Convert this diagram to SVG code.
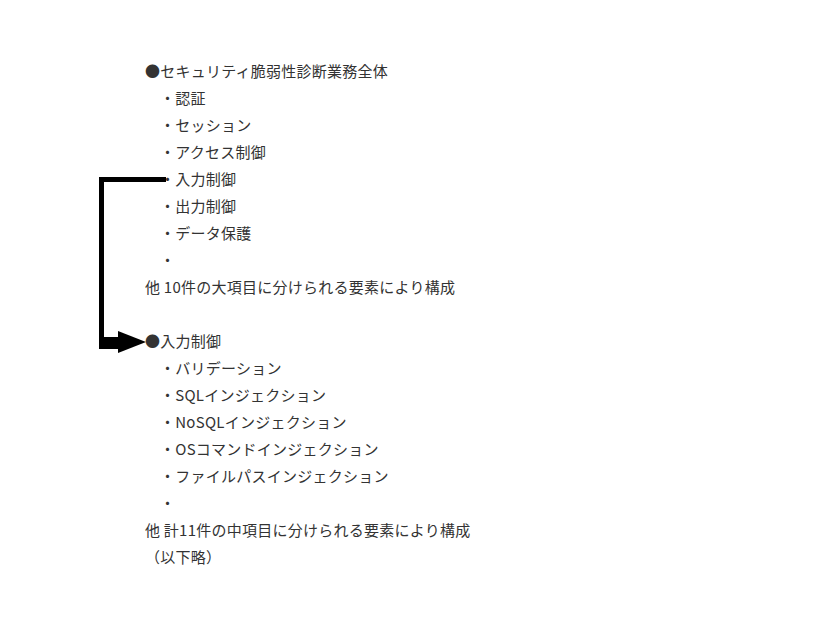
<svg xmlns="http://www.w3.org/2000/svg" width="826" height="620" viewBox="0 0 826 620">
<style>
text{font-family:"Noto Sans CJK JP","Noto Sans",sans-serif;font-size:15px;fill:#333;letter-spacing:0.25px;}
</style>
<rect width="826" height="620" fill="#fff"/>
<g id="node-overall">
<text x="145" y="77">●セキュリティ脆弱性診断業務全体</text>
<text x="160" y="104">・認証</text>
<text x="160" y="131">・セッション</text>
<text x="160" y="158">・アクセス制御</text>
<text x="160" y="185">・入力制御</text>
<text x="160" y="212">・出力制御</text>
<text x="160" y="239">・データ保護</text>
<text x="160" y="266">・</text>
<text x="145" y="293">他 10件の大項目に分けられる要素により構成</text>
</g>
<g id="node-input">
<text x="145" y="347">●入力制御</text>
<text x="160" y="374">・バリデーション</text>
<text x="160" y="401">・SQLインジェクション</text>
<text x="160" y="428">・NoSQLインジェクション</text>
<text x="160" y="455">・OSコマンドインジェクション</text>
<text x="160" y="482">・ファイルパスインジェクション</text>
<text x="160" y="509">・</text>
<text x="145" y="536">他 計11件の中項目に分けられる要素により構成</text>
<text x="145" y="563">（以下略）</text>
</g>
<g id="connectors">
<path d="M166 179.5 H101.5 V343 H120" fill="none" stroke="#000" stroke-width="5"/>
<rect x="99" y="337" width="22" height="12" fill="#000"/>
<polygon points="118,331 146,342 118,353" fill="#000"/>
</g>
</svg>
